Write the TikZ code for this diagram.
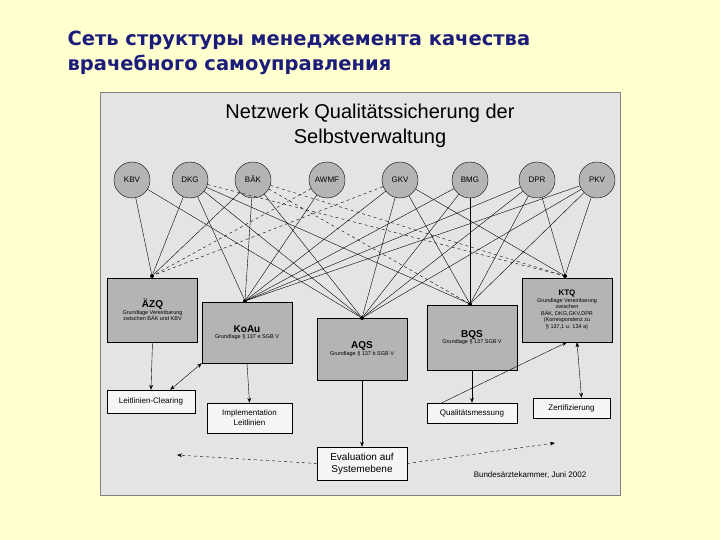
\documentclass[tikz,border=0pt]{standalone}
\usepackage{fontspec}
\setmainfont{Liberation Sans}
\newfontfamily\titlefont{DejaVu Sans}
\usetikzlibrary{arrows.meta}
\definecolor{slidebg}{HTML}{FFFFD0}
\definecolor{titleblue}{HTML}{1C1C7A}
\definecolor{scanbg}{HTML}{E4E4E4}
\definecolor{boxgray}{HTML}{B4B4B4}
\begin{document}
\begin{tikzpicture}[x=1pt,y=-1pt,
  org/.style={circle,draw,fill=boxgray,minimum size=36pt,inner sep=0pt,text height=6pt,text depth=1pt,font=\fontsize{8}{9}\selectfont},
  inst/.style={draw,fill=boxgray,minimum width=90pt,align=center,inner sep=2pt,font=\fontsize{5.5}{6.5}\selectfont},
  doc/.style={draw,fill=white!92!gray,align=center,inner sep=2pt,font=\fontsize{8}{10}\selectfont},
  dotn/.style={circle,fill=black,inner sep=0pt,minimum size=4pt},
  lk/.style={thin},
  lkd/.style={thin,dashed},
  arr/.style={-{Stealth[length=5pt]},thin},
  darr/.style={{Stealth[length=5pt]}-{Stealth[length=5pt]},thin}]
\useasboundingbox (0,0) rectangle (720,540);
\fill[slidebg] (0,0) rectangle (720,540);
\node[anchor=west,text=titleblue,align=left,font=\titlefont\bfseries\fontsize{19.5}{25}\selectfont] (title) at (64,53) {Сеть структуры менеджемента качества\\врачебного самоуправления};
\draw[fill=scanbg,draw=gray] (100,92) rectangle (620,495);
\node[font=\fontsize{20}{25}\selectfont,align=center] (sub) at (370,126) {Netzwerk Qualitätssicherung der\\Selbstverwaltung};
% organisations
\node[org] (kbv) at (132,180) {KBV};
\node[org] (dkg) at (190,180) {DKG};
\node[org] (baek) at (253,180) {BÄK};
\node[org] (awmf) at (327,180) {AWMF};
\node[org] (gkv) at (400,180) {GKV};
\node[org] (bmg) at (470,180) {BMG};
\node[org] (dpr) at (537,180) {DPR};
\node[org] (pkv) at (597,180) {PKV};
% institutions
\node[inst,minimum height=64pt] (azq) at (152.5,310) {{\fontsize{10}{12}\selectfont\bfseries ÄZQ}\\Grundlage Vereinbarung\\zwischen BÄK und KBV};
\node[inst,minimum height=61pt] (koau) at (247,332.5) {{\fontsize{10}{12}\selectfont\bfseries KoAu}\\Grundlage § 137 e SGB V};
\node[inst,minimum height=62pt] (aqs) at (362,349) {{\fontsize{10}{12}\selectfont\bfseries AQS}\\Grundlage § 137 b SGB V};
\node[inst,minimum height=65pt] (bqs) at (472,337.5) {{\fontsize{10}{12}\selectfont\bfseries BQS}\\Grundlage § 137 SGB V};
\node[inst,minimum height=64pt] (ktq) at (567,310) {{\fontsize{8}{10}\selectfont\bfseries KTQ}\\Grundlage Vereinbarung\\zwischen\\BÄK, DKG,GKV,DPR\\(Korrespondenz zu\\§ 137,1 u. 134 a)};
\node[dotn] (dazq) at (152,276) {};
\node[dotn] (dkoau) at (245,301) {};
\node[dotn] (dmid) at (362,318) {};
\node[dotn] (dbqs) at (470,304) {};
\node[dotn] (dktq) at (565,276) {};
% connectors
\draw[lk] (kbv) -- (dazq);
\draw[lk] (dkg) -- (dazq);
\draw[lk] (baek) -- (dazq);
\draw[lkd] (awmf) -- (dazq);
\draw[lkd] (gkv) -- (dazq);
\draw[lk] (dkg) -- (dkoau);
\draw[lk] (baek) -- (dkoau);
\draw[lk] (awmf) -- (dkoau);
\draw[lk] (gkv) -- (dkoau);
\draw[lk] (bmg) -- (dkoau);
\draw[lk] (dpr) -- (dkoau);
\draw[lk] (pkv) -- (dkoau);
\draw[lk] (kbv) -- (dmid);
\draw[lk] (dkg) -- (dmid);
\draw[lk] (baek) -- (dmid);
\draw[lk] (gkv) -- (dmid);
\draw[lk] (bmg) -- (dmid);
\draw[lk] (dpr) -- (dmid);
\draw[lk] (pkv) -- (dmid);
\draw[lk] (dkg) -- (dbqs);
\draw[lkd] (baek) -- (dbqs);
\draw[lk] (gkv) -- (dbqs);
\draw[lk] (bmg) -- (dbqs);
\draw[lk] (dpr) -- (dbqs);
\draw[lk] (pkv) -- (dbqs);
\draw[lkd] (dkg) -- (dktq);
\draw[lkd] (baek) -- (dktq);
\draw[lk] (gkv) -- (dktq);
\draw[lk] (dpr) -- (dktq);
\draw[lk] (pkv) -- (dktq);
% documents
\node[doc,minimum width=88pt,minimum height=23pt] (llc) at (151,401.5) {Leitlinien-Clearing};
\node[doc,minimum width=85pt,minimum height=30pt] (impl) at (249.5,418) {Implementation\\Leitlinien};
\node[doc,minimum width=90pt,minimum height=20pt] (qm) at (472,413) {Qualitätsmessung};
\node[doc,minimum width=77pt,minimum height=20pt] (zert) at (571.5,408) {Zertifizierung};
\node[doc,minimum width=90pt,minimum height=33pt,font=\fontsize{10}{12}\selectfont] (eval) at (362,463.5) {Evaluation auf\\Systemebene};
\node[font=\fontsize{8}{10}\selectfont] (bak) at (530,475) {Bundesärztekammer, Juni 2002};
\coordinate (el) at (177,455);
\coordinate (er) at (555,443);
\draw[arr] (azq.south) -- (llc.north);
\draw[darr] (llc.north east) ++(-25,0) -- (koau.south west);
\draw[arr] (koau.south) -- (impl.north);
\draw[arr] (aqs.south) -- (eval.north);
\draw[arr] (bqs.south) -- (qm.north);
\draw[arr] (qm.north west) ++(15,0) -- (ktq.south);
\draw[darr] (ktq.south) ++(10,0) -- ([xshift=10pt]zert.north);
\draw[arr,dashed] (eval.west) -- (el);
\draw[arr,dashed] (eval.east) -- (er);
\end{tikzpicture}
\end{document}
